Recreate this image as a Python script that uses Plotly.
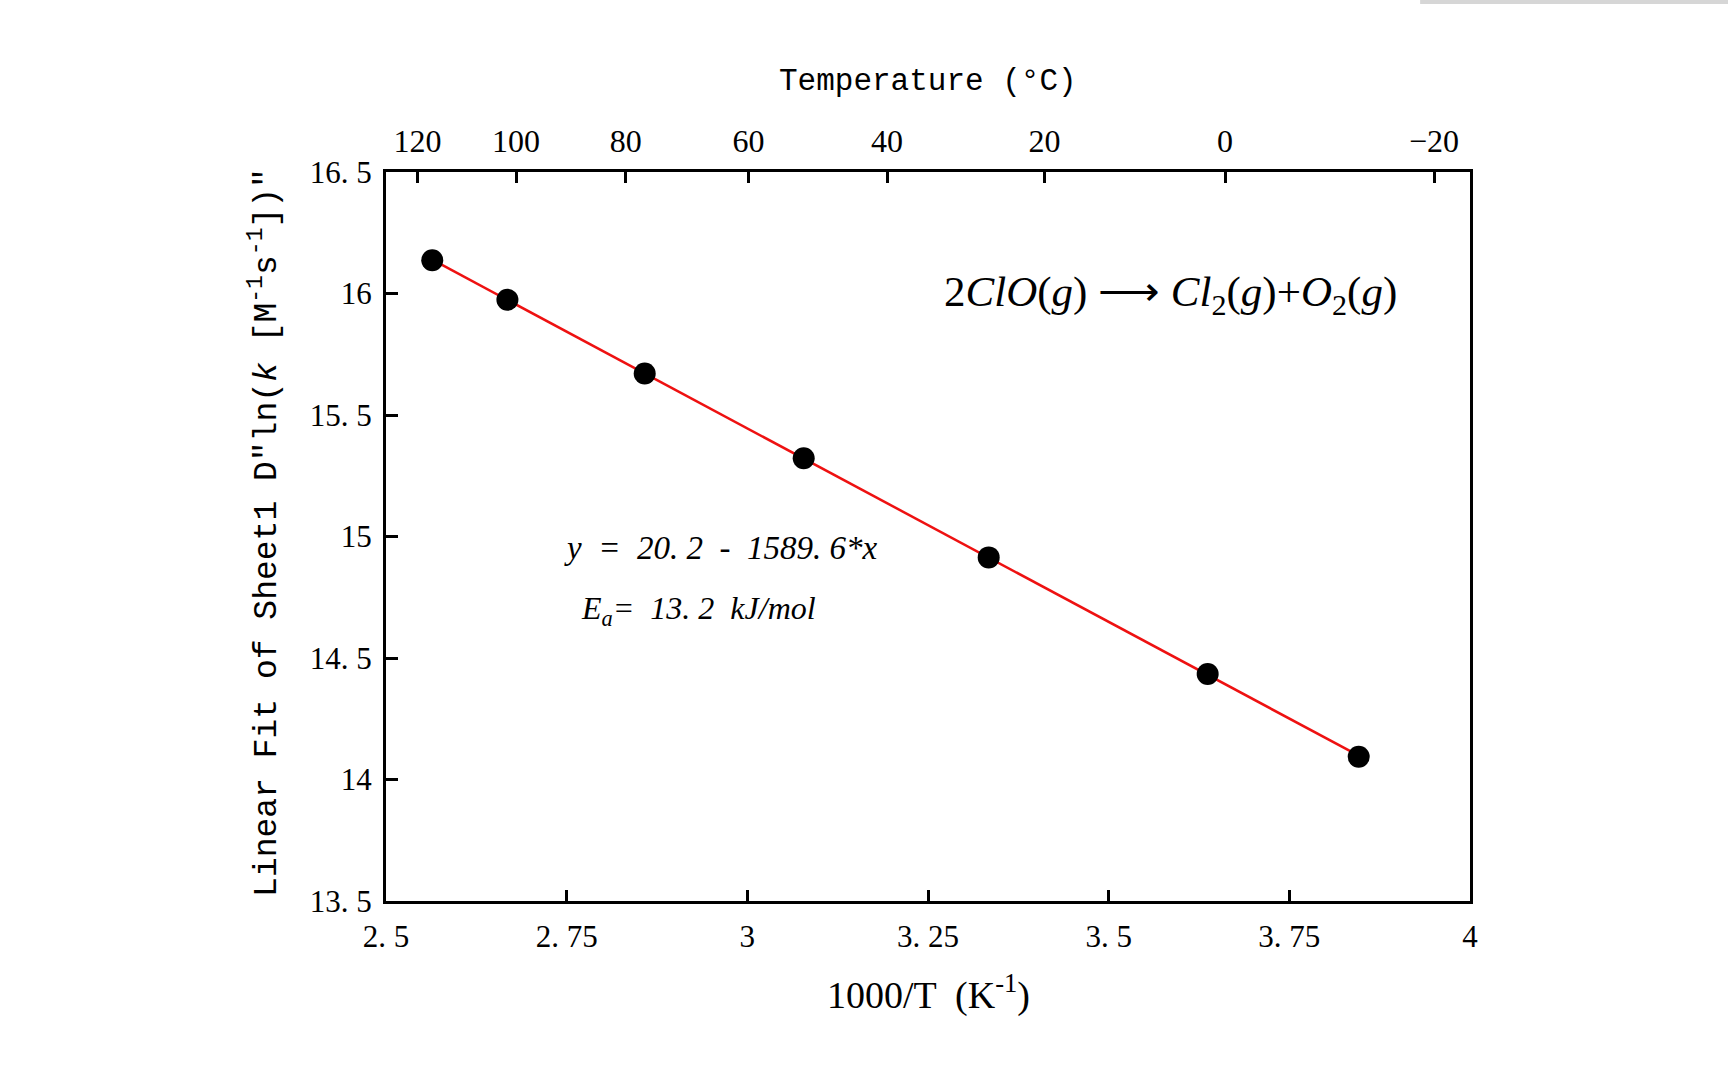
import numpy as np
import plotly.graph_objects as go

# ---- data ----
inv_T = [2.564, 2.668, 2.858, 3.078, 3.334, 3.637, 3.846]          # 1000/T (K^-1)
ln_k = [16.137, 15.974, 15.671, 15.322, 14.914, 14.434, 14.094]    # ln(k)

x_ticks = [2.5, 2.75, 3.0, 3.25, 3.5, 3.75, 4.0]
x_ticktext = ["2. 5", "2. 75", "3", "3. 25", "3. 5", "3. 75", "4"]
y_ticks = [13.5, 14.0, 14.5, 15.0, 15.5, 16.0, 16.5]
y_ticktext = ["13. 5", "14", "14. 5", "15", "15. 5", "16", "16. 5"]
temps_C = [120, 100, 80, 60, 40, 20, 0, -20]
temps_text = ["120", "100", "80", "60", "40", "20", "0", "\u221220"]

# linear fit line through the data
coef = np.polyfit(inv_T, ln_k, 1)
fit_x = [min(inv_T), max(inv_T)]
fit_y = [coef[0] * v + coef[1] for v in fit_x]

temp_pos = [1000.0 / (t + 273.15) for t in temps_C]

SERIF = "Liberation Serif"
MONO = "Liberation Mono"

fig = go.Figure()
fig.add_trace(go.Scatter(x=fit_x, y=fit_y, mode="lines",
                         line=dict(color="#ee1111", width=2.5),
                         showlegend=False, hoverinfo="skip"))
fig.add_trace(go.Scatter(x=inv_T, y=ln_k, mode="markers",
                         marker=dict(color="black", size=22),
                         showlegend=False))
# invisible trace to activate top axis
fig.add_trace(go.Scatter(x=[2.5], y=[13.5], xaxis="x2", mode="markers",
                         marker=dict(opacity=0), showlegend=False, hoverinfo="skip"))

fig.update_layout(
    width=1728, height=1080,
    margin=dict(l=386, r=258, t=172, b=179),
    paper_bgcolor="white", plot_bgcolor="white",
    xaxis=dict(range=[2.5, 4.0], tickvals=x_ticks, ticktext=x_ticktext,
               ticks="inside", ticklen=11, tickwidth=3, tickcolor="black",
               showline=True, linewidth=3, linecolor="black", mirror=False,
               showgrid=False, zeroline=False, ticklabelstandoff=6,
               tickfont=dict(family=SERIF, size=31, color="black")),
    xaxis2=dict(range=[2.5, 4.0], overlaying="x", side="top",
                tickvals=temp_pos, ticktext=temps_text,
                ticks="inside", ticklen=11, tickwidth=3, tickcolor="black",
                showline=True, linewidth=3, linecolor="black",
                showgrid=False, zeroline=False, ticklabelstandoff=4,
                tickfont=dict(family=SERIF, size=32, color="black")),
    yaxis=dict(range=[13.5, 16.5], tickvals=y_ticks, ticktext=y_ticktext,
               ticks="inside", ticklen=12, tickwidth=3, tickcolor="black",
               showline=True, linewidth=3, linecolor="black", mirror=True,
               showgrid=False, zeroline=False, ticklabelstandoff=5,
               tickfont=dict(family=SERIF, size=31, color="black")),
)

annotations = [
    dict(text="Linear Fit of Sheet1 D\u2033ln(<i>k</i> [M<sup>-1</sup>s<sup>-1</sup>])\u2033",
         x=-0.1116, y=0.505, xref="paper", yref="paper", textangle=-90,
         xanchor="center", yanchor="middle", showarrow=False,
         font=dict(family=MONO, size=33, color="black")),
    dict(text="1000/T  (K<sup>-1</sup>)",
         x=0.5, y=-0.125, xref="paper", yref="paper",
         xanchor="center", yanchor="middle", showarrow=False,
         font=dict(family=SERIF, size=38, color="black")),
    dict(text="Temperature (\u00b0C)",
         x=0.5, y=1.124, xref="paper", yref="paper",
         xanchor="center", yanchor="middle", showarrow=False,
         font=dict(family=MONO, size=31, color="black")),
    dict(text="2<i>ClO</i>(<i>g</i>) \u27f6 <i>Cl</i><sub>2</sub>(<i>g</i>)+<i>O</i><sub>2</sub>(<i>g</i>)",
         x=0.724, y=0.831, xref="paper", yref="paper",
         xanchor="center", yanchor="middle", showarrow=False,
         font=dict(family=SERIF, size=43, color="black")),
    dict(text="<i>y  =  20. 2  -  1589. 6*x</i>",
         x=0.162, y=0.484, xref="paper", yref="paper",
         xanchor="left", yanchor="middle", showarrow=False,
         font=dict(family=SERIF, size=33, color="black")),
    dict(text="<i>E<sub>a</sub>=  13. 2  kJ/mol</i>",
         x=0.178, y=0.398, xref="paper", yref="paper",
         xanchor="left", yanchor="middle", showarrow=False,
         font=dict(family=SERIF, size=32, color="black")),
]
fig.update_layout(annotations=annotations)

# faint grey shadow strip at the top right edge of the page
fig.add_shape(type="rect", xref="paper", yref="paper",
              x0=0.954, x1=1.24, y0=1.2305, y1=1.237,
              fillcolor="#d6d6d6", line=dict(width=0), layer="above")

fig.write_html("out.html")
